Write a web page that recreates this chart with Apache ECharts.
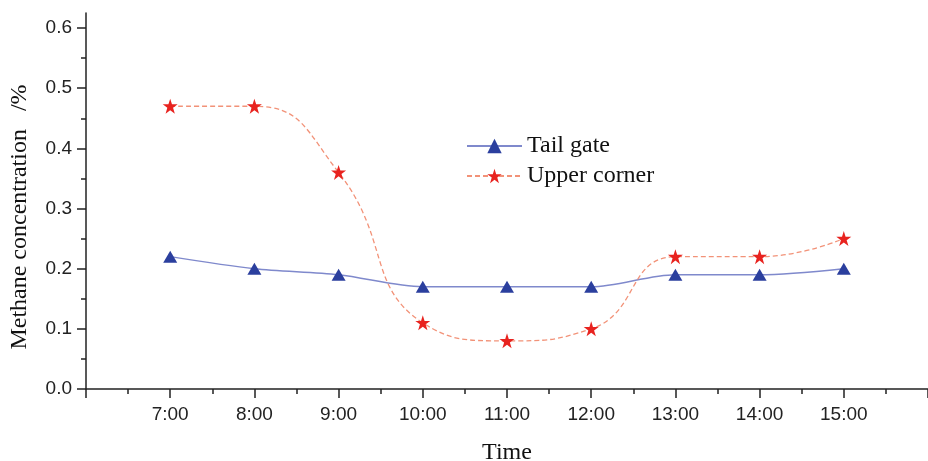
<!DOCTYPE html>
<html><head><meta charset="utf-8">
<script src="https://cdn.jsdelivr.net/npm/echarts@6/dist/echarts.min.js"></script>
<style>html,body{margin:0;padding:0;background:#fff}#c{width:928px;height:461px}</style>
</head><body><div id="c"></div>
<script>
const hours = [7, 8, 9, 10, 11, 12, 13, 14, 15];
const tailGate = [0.22, 0.20, 0.19, 0.17, 0.17, 0.17, 0.19, 0.19, 0.20];
const upperCorner = [0.47, 0.47, 0.36, 0.11, 0.08, 0.10, 0.22, 0.22, 0.25];
const yTicks = [0, 0.1, 0.2, 0.3, 0.4, 0.5, 0.6];
const yMinorTicks = [0.05, 0.15, 0.25, 0.35, 0.45, 0.55];

const axisColor = '#222';
const chart = echarts.init(document.getElementById('c'));
chart.setOption({
  animation: false,
  backgroundColor: '#fff',
  grid: { left: 86, right: 0, top: 13, bottom: 72, outerBoundsMode: 'none', containLabel: false },
  legend: {
    orient: 'vertical', left: 461, top: 129, itemWidth: 55, itemHeight: 18, itemGap: 6,
    textStyle: { fontFamily: 'Liberation Serif', fontSize: 24, color: '#111' },
    data: ['Tail gate', 'Upper corner']
  },
  xAxis: {
    type: 'value', min: 6, max: 16, interval: 1,
    name: 'Time', nameLocation: 'middle', nameGap: 52,
    nameTextStyle: { fontFamily: 'Liberation Serif', fontSize: 24, color: '#111' },
    axisLine: { lineStyle: { color: axisColor, width: 1.5 } },
    axisTick: { inside: false, length: 9, lineStyle: { color: axisColor, width: 1.5 } },
    minorTick: { show: true, splitNumber: 2, length: 5, lineStyle: { color: axisColor, width: 1.5 } },
    splitLine: { show: false },
    axisLabel: {
      fontFamily: 'Liberation Sans', fontSize: 19, color: '#222', margin: 16,
      formatter: v => (v >= 7 && v <= 15) ? (v + ':00') : ''
    }
  },
  yAxis: [{
    type: 'value', min: 0, max: 0.625,
    name: 'Methane concentration   /%', nameLocation: 'middle', nameGap: 54,
    nameTextStyle: { fontFamily: 'Liberation Serif', fontSize: 24, color: '#111', padding: [0, 32, 0, 0] },
    axisLine: { show: true, lineStyle: { color: axisColor, width: 1.5 } },
    axisTick: { show: true, length: 9, customValues: yTicks, lineStyle: { color: axisColor, width: 1.5 } },
    splitLine: { show: false },
    axisLabel: {
      customValues: yTicks, fontFamily: 'Liberation Sans', fontSize: 19, color: '#222', margin: 14,
      formatter: v => v.toFixed(1)
    }
  }, {
    type: 'value', min: 0, max: 0.625, position: 'left',
    axisLine: { show: false },
    axisTick: { show: true, length: 5, customValues: yMinorTicks, lineStyle: { color: axisColor, width: 1.5 } },
    axisLabel: { show: false, customValues: yMinorTicks },
    splitLine: { show: false }
  }],
  series: [{
    name: 'Tail gate', type: 'line', smooth: 0.3,
    data: hours.map((h, i) => [h, tailGate[i]]),
    symbol: 'triangle', symbolSize: [14, 12],
    itemStyle: { color: '#2b3f9e' },
    lineStyle: { color: '#7f89cc', width: 1.4 }
  }, {
    name: 'Upper corner', type: 'line', smooth: 0.5,
    data: hours.map((h, i) => [h, upperCorner[i]]),
    symbol: 'path://M50,0 L61.8,35.4 L100,35.4 L69.1,57.3 L80.9,95.1 L50,72.4 L19.1,95.1 L30.9,57.3 L0,35.4 L38.2,35.4 Z',
    symbolSize: 15,
    itemStyle: { color: '#e8231f' },
    lineStyle: { color: '#f29278', width: 1.3, type: [5, 3] }
  }]
});
</script></body></html>
